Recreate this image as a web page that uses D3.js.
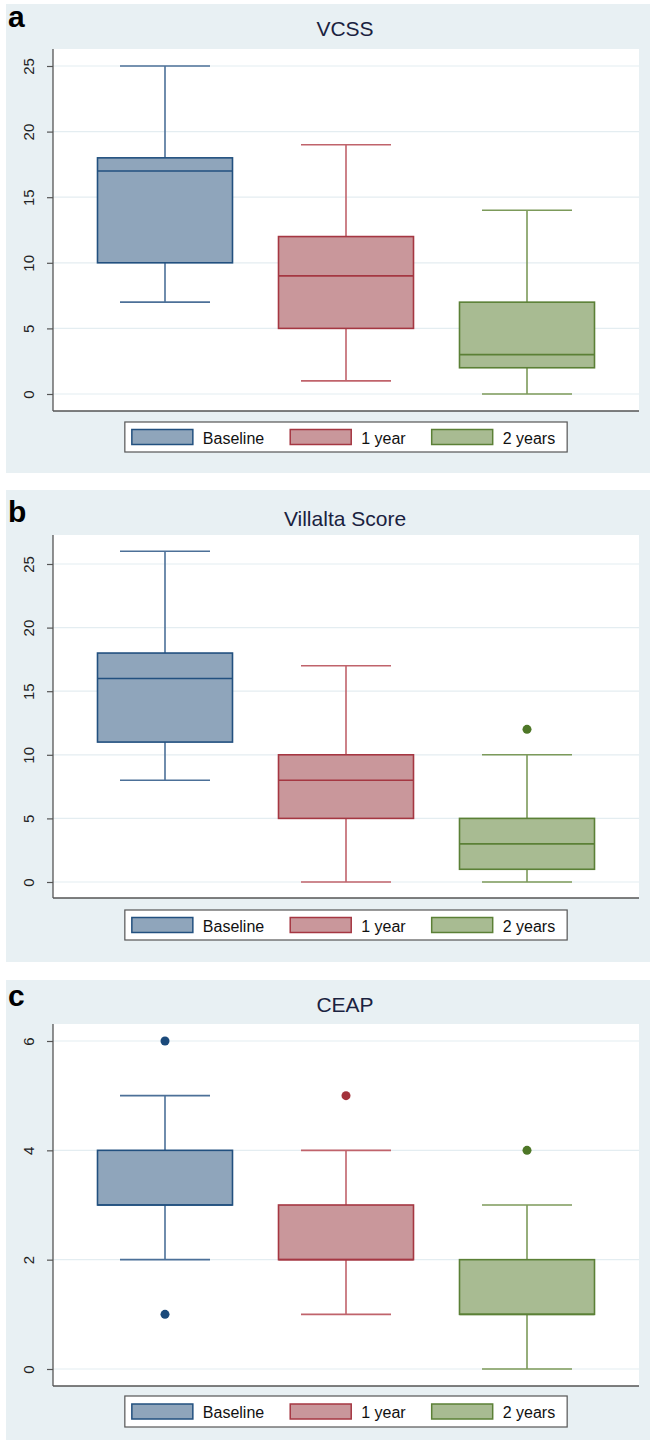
<!DOCTYPE html>
<html>
<head>
<meta charset="utf-8">
<script src="https://cdn.jsdelivr.net/npm/d3@7"></script>
<style>
  html, body { margin: 0; padding: 0; background: #ffffff; }
  svg { display: block; }
  text { font-family: "Liberation Sans", Arial, Helvetica, sans-serif; }
</style>
</head>
<body>
<svg id="chart" width="650" height="1440"></svg>
<script>
// ---------------- DATA ----------------
const categories = ["Baseline", "1 year", "2 years"];
const panelLetters = ["a", "b", "c"];
const panelTitles = ["VCSS", "Villalta Score", "CEAP"];

const vcssTicks = [0, 5, 10, 15, 20, 25];
const villaltaTicks = [0, 5, 10, 15, 20, 25];
const ceapTicks = [0, 2, 4, 6];

// box statistics: [min whisker, Q1, median, Q3, max whisker]
const vcssBoxes = [
  [7, 10, 17, 18, 25],
  [1, 5, 9, 12, 19],
  [0, 2, 3, 7, 14]
];
const vcssOutliers = [[], [], []];

const villaltaBoxes = [
  [8, 11, 16, 18, 26],
  [0, 5, 8, 10, 17],
  [0, 1, 3, 5, 10]
];
const villaltaOutliers = [[], [], [12]];

const ceapBoxes = [
  [2, 3, 3, 4, 5],
  [1, 2, 2, 3, 4],
  [0, 1, 1, 2, 3]
];
const ceapOutliers = [[1, 6], [5], [4]];

// ---------------- STYLE ----------------
const fills    = ["#8fa5bb", "#c9979b", "#a8bb92"];
const strokes  = ["#22507f", "#a53742", "#5b8036"];
const whiskers = ["#4c7098", "#c0636b", "#7c9a5a"];
const dots     = ["#1b4a7b", "#a3323b", "#4e7727"];
const bgColor = "#e8f0f3";
const gridColor = "#e4edf1";
const axisColor = "#555555";

// ---------------- LAYOUT ----------------
const panels = [
  { ticks: vcssTicks, boxes: vcssBoxes, outliers: vcssOutliers,
    bgTop: 4, bgBottom: 473, plotTop: 49, plotBottom: 411, y0: 394, yTop: 66,
    titleY: 36, letterY: 27, legTop: 422, legBottom: 452 },
  { ticks: villaltaTicks, boxes: villaltaBoxes, outliers: villaltaOutliers,
    bgTop: 490, bgBottom: 962, plotTop: 535, plotBottom: 898, y0: 882, yTop: 564,
    titleY: 526, letterY: 522, legTop: 910, legBottom: 940 },
  { ticks: ceapTicks, boxes: ceapBoxes, outliers: ceapOutliers,
    bgTop: 980, bgBottom: 1440, plotTop: 1024, plotBottom: 1386, y0: 1369, yTop: 1041,
    titleY: 1012, letterY: 1006, legTop: 1396, legBottom: 1427 }
];
const bgLeft = 6, bgRight = 650;
const plotLeft = 53, plotRight = 639;
const boxW = 135, capW = 90;

const svg = d3.select("#chart");
const x = d3.scalePoint().domain(categories).range([165, 527]);

panels.forEach((p, pi) => {
  const g = svg.append("g");
  const y = d3.scaleLinear()
    .domain([0, d3.max(p.ticks)])
    .range([p.y0, p.yTop]);

  // background
  g.append("rect")
    .attr("x", bgLeft).attr("y", p.bgTop)
    .attr("width", bgRight - bgLeft).attr("height", p.bgBottom - p.bgTop)
    .attr("fill", bgColor);

  // plot area
  g.append("rect")
    .attr("x", plotLeft).attr("y", p.plotTop)
    .attr("width", plotRight - plotLeft).attr("height", p.plotBottom - p.plotTop)
    .attr("fill", "#ffffff");

  // gridlines
  g.append("g").selectAll("line").data(p.ticks).join("line")
    .attr("x1", plotLeft).attr("x2", plotRight)
    .attr("y1", d => y(d)).attr("y2", d => y(d))
    .attr("stroke", gridColor).attr("stroke-width", 1.2);

  // panel letter
  g.append("text")
    .attr("x", 8).attr("y", p.letterY)
    .attr("font-size", 30).attr("font-weight", "bold")
    .attr("fill", "#000")
    .text(panelLetters[pi]);

  // title
  g.append("text")
    .attr("x", 345).attr("y", p.titleY)
    .attr("text-anchor", "middle")
    .attr("font-size", 21)
    .attr("fill", "#1a2240")
    .text(panelTitles[pi]);

  // y axis
  const axis = g.append("g")
    .attr("transform", `translate(${plotLeft},0)`)
    .call(d3.axisLeft(y).tickValues(p.ticks).tickSize(6).tickSizeOuter(0).tickFormat(d3.format("d")));
  axis.select(".domain").remove();
  axis.selectAll(".tick line").attr("stroke", axisColor).attr("stroke-width", 1.2);
  axis.selectAll(".tick text")
    .attr("transform", "rotate(-90)")
    .attr("x", 0).attr("y", -19).attr("dy", 0)
    .attr("text-anchor", "middle")
    .attr("font-size", 15)
    .attr("fill", "#222")
    .style("font-family", "'Liberation Sans', Arial, sans-serif");

  // axis lines
  g.append("line")
    .attr("x1", plotLeft).attr("x2", plotLeft)
    .attr("y1", p.plotTop).attr("y2", p.plotBottom)
    .attr("stroke", axisColor).attr("stroke-width", 1.3);
  g.append("line")
    .attr("x1", plotLeft).attr("x2", plotRight)
    .attr("y1", p.plotBottom).attr("y2", p.plotBottom)
    .attr("stroke", axisColor).attr("stroke-width", 1.3);

  // boxes
  categories.forEach((cat, ci) => {
    const [mn, q1, med, q3, mx] = p.boxes[ci];
    const cx = x(cat);
    const bg = g.append("g");
    // whiskers
    bg.append("line").attr("x1", cx).attr("x2", cx).attr("y1", y(q3)).attr("y2", y(mx))
      .attr("stroke", whiskers[ci]).attr("stroke-width", 1.6);
    bg.append("line").attr("x1", cx).attr("x2", cx).attr("y1", y(q1)).attr("y2", y(mn))
      .attr("stroke", whiskers[ci]).attr("stroke-width", 1.6);
    bg.append("line").attr("x1", cx - capW / 2).attr("x2", cx + capW / 2).attr("y1", y(mx)).attr("y2", y(mx))
      .attr("stroke", whiskers[ci]).attr("stroke-width", 1.6);
    bg.append("line").attr("x1", cx - capW / 2).attr("x2", cx + capW / 2).attr("y1", y(mn)).attr("y2", y(mn))
      .attr("stroke", whiskers[ci]).attr("stroke-width", 1.6);
    // box
    bg.append("rect")
      .attr("x", cx - boxW / 2).attr("y", y(q3))
      .attr("width", boxW).attr("height", Math.max(0.01, y(q1) - y(q3)))
      .attr("fill", fills[ci]).attr("stroke", strokes[ci]).attr("stroke-width", 1.6);
    // median
    bg.append("line").attr("x1", cx - boxW / 2).attr("x2", cx + boxW / 2).attr("y1", y(med)).attr("y2", y(med))
      .attr("stroke", strokes[ci]).attr("stroke-width", 1.6);
    // outliers
    bg.selectAll("circle").data(p.outliers[ci]).join("circle")
      .attr("cx", cx).attr("cy", d => y(d)).attr("r", 4.5)
      .attr("fill", dots[ci]);
  });

  // legend
  const leg = g.append("g");
  const legRect = leg.append("rect")
    .attr("y", p.legTop).attr("height", p.legBottom - p.legTop)
    .attr("fill", "#ffffff").attr("stroke", "#555").attr("stroke-width", 1.2);
  const swW = 61, swH = 15, padL = 7, padR = 12, gapSwText = 10, gapItem = 26;
  const swY = (p.legTop + p.legBottom) / 2 - swH / 2;
  let cursor = 0;
  const items = [];
  categories.forEach((cat, ci) => {
    const it = leg.append("g");
    it.append("rect").attr("x", cursor).attr("y", swY).attr("width", swW).attr("height", swH)
      .attr("fill", fills[ci]).attr("stroke", strokes[ci]).attr("stroke-width", 1.5);
    const t = it.append("text").attr("x", cursor + swW + gapSwText).attr("y", swY + swH - 1)
      .attr("font-size", 16).attr("fill", "#111").text(cat);
    const w = t.node().getComputedTextLength();
    cursor += swW + gapSwText + w + gapItem;
    items.push(it);
  });
  const contentW = cursor - gapItem;
  const totalW = padL + contentW + padR;
  const legLeft = 346 - totalW / 2;
  legRect.attr("x", legLeft).attr("width", totalW);
  items.forEach(it => it.attr("transform", `translate(${legLeft + padL},0)`));
});
</script>
</body>
</html>
